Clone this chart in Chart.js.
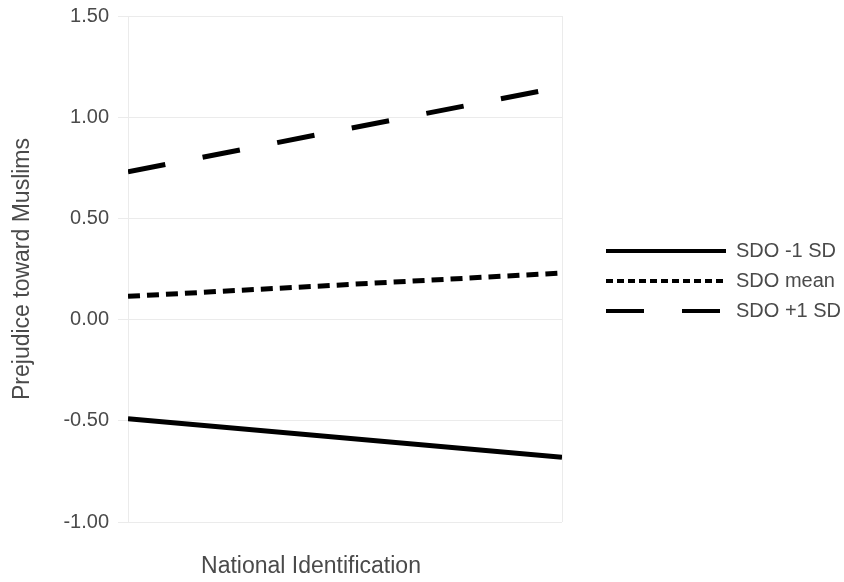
<!DOCTYPE html>
<html>
<head>
<meta charset="utf-8">
<script src="https://cdn.jsdelivr.net/npm/chart.js@4/dist/chart.umd.min.js"></script>
<style>
  body { margin:0; background:#fff; }
  #wrap { width:844px; height:582px; }
</style>
</head>
<body>
<div id="wrap"><canvas id="graph" width="844" height="582"></canvas></div>
<script>
// low vs high national identification
var xpos = [0, 1];
var sdoLow = [-0.49, -0.68];
var sdoMean = [0.115, 0.23];
var sdoHigh = [0.73, 1.15];
var names = ["SDO -1 SD", "SDO mean", "SDO +1 SD"];
var yTicks = [-1, -0.5, 0, 0.5, 1, 1.5];

function pts(ys){
    var out = [];
    for (var i = 0; i < xpos.length; i++) out.push({x: xpos[i], y: ys[i]});
    return out;
}

var font = "'Liberation Sans', Arial, sans-serif";
var textCol = "#4a4a4a";

// x axis title is not centred on the plot, so draw it by hand
var xTitle = {
    id: "xTitle",
    afterDraw: function(chart){
        var ctx = chart.ctx;
        ctx.save();
        ctx.font = "23px " + font;
        ctx.fillStyle = textCol;
        ctx.textAlign = "center";
        ctx.textBaseline = "middle";
        ctx.fillText("National Identification", 311, 567);
        ctx.restore();
    }
};

new Chart("graph", {
    type: "line",
    data: {
        datasets: [{
            label: names[0],
            data: pts(sdoLow),
            borderColor: "#000",
            backgroundColor: "#000",
            borderWidth: 5,
            borderCapStyle: "butt",
            pointRadius: 0
        }, {
            label: names[1],
            data: pts(sdoMean),
            borderColor: "#000",
            backgroundColor: "#000",
            borderWidth: 5,
            borderDash: [12, 7],
            borderCapStyle: "butt",
            pointRadius: 0
        }, {
            label: names[2],
            data: pts(sdoHigh),
            borderColor: "#000",
            backgroundColor: "#000",
            borderWidth: 5,
            borderDash: [38, 38],
            borderCapStyle: "butt",
            pointRadius: 0
        }]
    },
    options: {
        responsive: false,
        animation: false,
        layout: { padding: { left: 0, top: 0, right: 0, bottom: 60 } },
        plugins: {
            tooltip: { enabled: false },
            legend: {
                position: "right",
                maxWidth: 248,
                title: { display: true, text: " ", font: { size: 10 }, padding: { top: 14, bottom: 14 } },
                labels: {
                    usePointStyle: true,
                    pointStyle: "line",
                    pointStyleWidth: 120,
                    boxHeight: 19,
                    padding: 10,
                    color: textCol,
                    font: { family: font, size: 20 },
                    generateLabels: function(chart){
                        var dashes = [[], [7, 4], [38, 38]];
                        return chart.data.datasets.map(function(ds, i){
                            return {
                                text: ds.label,
                                fillStyle: "#000",
                                strokeStyle: "#000",
                                fontColor: textCol,
                                lineWidth: 4,
                                lineDash: dashes[i],
                                lineCap: "butt",
                                pointStyle: "line",
                                datasetIndex: i,
                                hidden: false
                            };
                        });
                    }
                }
            }
        },
        scales: {
            x: {
                type: "linear",
                min: 0,
                max: 1,
                ticks: { display: false, stepSize: 1 },
                grid: { color: "#ebebeb", drawTicks: false },
                border: { display: false }
            },
            y: {
                min: -1,
                max: 1.5,
                afterBuildTicks: function(axis){
                    axis.ticks = yTicks.map(function(v){ return {value: v}; });
                },
                afterFit: function(axis){
                    axis.width = 128;
                    axis.paddingTop = 16;
                },
                ticks: {
                    padding: 9,
                    color: textCol,
                    font: { family: font, size: 20 },
                    callback: function(v){ return v.toFixed(2); }
                },
                grid: { color: "#ebebeb", tickLength: 10 },
                border: { display: false },
                title: {
                    display: true,
                    text: "Prejudice toward Muslims",
                    color: textCol,
                    font: { family: font, size: 23 },
                    padding: { top: 9, bottom: 0 }
                }
            },
            // empty axis, only keeps the gap between plot and legend
            gap: {
                position: "right",
                min: -1,
                max: 1.5,
                ticks: { display: false },
                grid: { display: false },
                border: { display: false },
                afterFit: function(axis){ axis.width = 34; }
            }
        }
    },
    plugins: [xTitle]
});
</script>
</body>
</html>
